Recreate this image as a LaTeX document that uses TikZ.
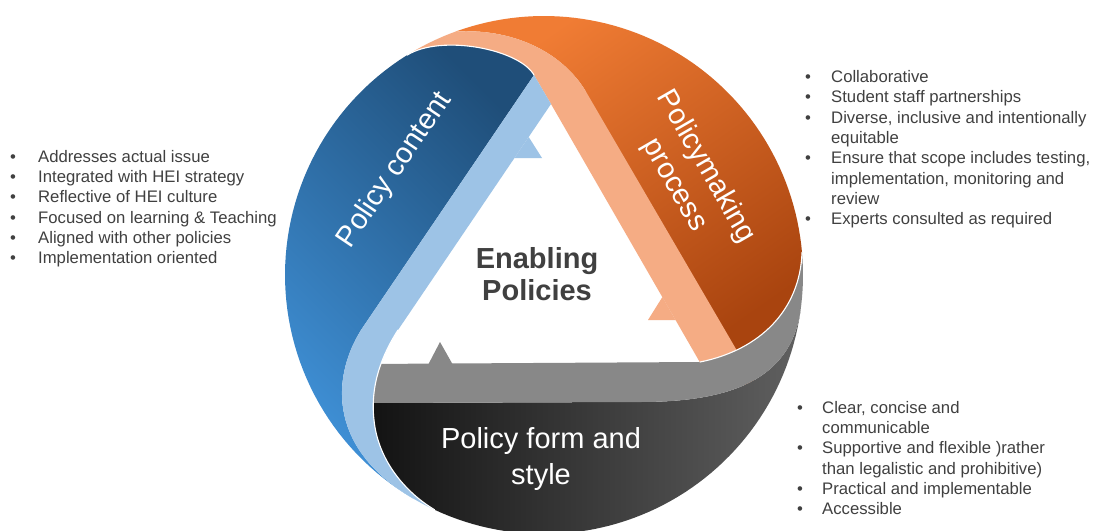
\documentclass[tikz,border=0pt]{standalone}
\usepackage{fontspec}
\setmainfont{Liberation Sans}
\definecolor{navy}{HTML}{1F4E79}
\definecolor{skyblue}{HTML}{3F90D6}
\definecolor{lightband}{HTML}{9DC3E6}
\definecolor{orangeL}{HTML}{F07C34}
\definecolor{orangeD}{HTML}{A9440F}
\definecolor{pinkband}{HTML}{F5AC84}
\definecolor{greyband}{HTML}{888888}
\definecolor{darkL}{HTML}{111111}
\definecolor{darkR}{HTML}{606060}
\definecolor{txtgrey}{HTML}{404040}
\newcommand\bul[1]{\makebox[#1][l]{\textbullet}}
\begin{document}
\begin{tikzpicture}[x=1pt,y=-1pt,
  listtxt/.style={anchor=base west,inner sep=0pt,text=txtgrey,font=\fontsize{16.7}{20.3}\selectfont},
  bandlbl/.style={text=white,inner sep=0pt,align=center,font=\fontsize{29}{36}\selectfont},
  centerlbl/.style={text=txtgrey,inner sep=0pt,align=center,font=\bfseries\fontsize{29}{32}\selectfont},
  sep/.style={draw=white,line width=1.1pt,line cap=round}]
\useasboundingbox (0,0) rectangle (1097,530);
\fill[white] (0,0) rectangle (1097,530);

% key points
\coordinate (Ptl) at ({544+259*cos(238.1)},{275+259*sin(238.1)});
\coordinate (Ptop) at ({544+259*cos(250)},{275+259*sin(250)});
\coordinate (Pr1) at ({544+259*cos(355)},{275+259*sin(355)});
\coordinate (Pr2) at ({544+259*cos(8)},{275+259*sin(8)});
\coordinate (Pbt) at ({544+259*cos(115)},{275+259*sin(115)});
\coordinate (Pbl) at ({544+259*cos(120.4)},{275+259*sin(120.4)});
\coordinate (T) at (551,104);
\coordinate (A) at (534,75);
\coordinate (B) at (585,90);
\coordinate (LBi) at (398,330);
\coordinate (LBo) at (361,330);
\coordinate (LBm) at (374,420);
\coordinate (Gt) at (700,362);
\coordinate (Gb) at (640,402);

% dark blue
\shade[top color=navy,bottom color=skyblue,shading angle=-45]
  (Ptl) -- plot[domain=238.1:120.4,samples=60,variable=\t]({544+259*cos(\t)},{275+259*sin(\t)})
  -- (Pbl) .. controls (330,450) and (330,380) .. (LBo) -- (A)
  .. controls (519,49) and (441,34) .. (Ptl) -- cycle;
% orange
\shade[top color=orangeL,bottom color=orangeD,shading angle=35]
  (Ptop) -- plot[domain=250:355,samples=60,variable=\t]({544+259*cos(\t)},{275+259*sin(\t)})
  -- (Pr1) .. controls (800,310) and (760,350) .. (Gt) -- (B)
  .. controls (560,50) and (510,28) .. (Ptop) -- cycle;
% pink band
\fill[pinkband] (Ptl) .. controls (441,34) and (519,49) .. (A) -- (T) -- (713,385) -- (757,385) -- (B)
  .. controls (560,50) and (510,28) .. (Ptop)
  -- plot[domain=250:238.1,samples=10,variable=\t]({544+259*cos(\t)},{275+259*sin(\t)}) -- cycle;
% dark grey
\shade[left color=darkL,right color=darkR]
  (362,403) -- (Gb) .. controls (730,402) and (790,380) .. (Pr2)
  -- plot[domain=8:115,samples=60,variable=\t]({544+259*cos(\t)},{275+259*sin(\t)})
  -- (Pbt) .. controls (405,492) and (378,460) .. (LBm) -- cycle;
% grey band
\fill[greyband] (Pr1) .. controls (800,310) and (760,350) .. (Gt) -- (365,364) -- (362,403) -- (Gb)
  .. controls (730,402) and (790,380) .. (Pr2)
  -- plot[domain=8:-5,samples=10,variable=\t]({544+259*cos(\t)},{275+259*sin(\t)}) -- cycle;
% light blue band
\fill[lightband] (A) -- (T) -- (LBi) .. controls (382,355) and (370,385) .. (LBm)
  .. controls (378,460) and (405,492) .. (Pbt)
  -- plot[domain=115:120.4,samples=6,variable=\t]({544+259*cos(\t)},{275+259*sin(\t)})
  -- (Pbl) .. controls (330,450) and (330,380) .. (LBo) -- cycle;

% barbs
\fill[lightband] (528.7,137) -- (542,158) -- (514.4,158) -- cycle;
\fill[pinkband] (662.4,297) -- (648,320) -- (675.6,320) -- cycle;
\fill[greyband] (428,365) -- (440,342) -- (453,365) -- cycle;

% highlight separators
\draw[sep] (Ptl) .. controls (441,34) and (519,49) .. (A);
\draw[sep] (Pr1) .. controls (800,310) and (760,350) .. (Gt);
\draw[sep] (LBi) .. controls (382,355) and (370,385) .. (LBm) .. controls (378,460) and (405,492) .. (Pbt);

% labels
\node[bandlbl,rotate=56] (pcontent) at (395,170) {Policy content};
\node[bandlbl,rotate=-60] (pprocess) at (690,176) {Policymaking\\process};
\node[bandlbl] (pform) at (541,459) {Policy form and\\style};
\node[centerlbl] (enabling) at (537,274) {Enabling\\Policies};

% left list
\node[listtxt] (l1) at (10,162.5) {\bul{28pt}Addresses actual issue};
\node[listtxt] (l2) at (10,182.7) {\bul{28pt}Integrated with HEI strategy};
\node[listtxt] (l3) at (10,202.9) {\bul{28pt}Reflective of HEI culture};
\node[listtxt] (l4) at (10,223.1) {\bul{28pt}Focused on learning \& Teaching};
\node[listtxt] (l5) at (10,243.3) {\bul{28pt}Aligned with other policies};
\node[listtxt] (l6) at (10,263.5) {\bul{28pt}Implementation oriented};

% right list
\node[listtxt] (r1) at (805,82.5) {\bul{26pt}Collaborative};
\node[listtxt] (r2) at (805,102.8) {\bul{26pt}Student staff partnerships};
\node[listtxt] (r3) at (805,123.1) {\bul{26pt}Diverse, inclusive and intentionally};
\node[listtxt] (r4) at (831,143.4) {equitable};
\node[listtxt] (r5) at (805,163.7) {\bul{26pt}Ensure that scope includes testing,};
\node[listtxt] (r6) at (831,184.0) {implementation, monitoring and};
\node[listtxt] (r7) at (831,204.3) {review};
\node[listtxt] (r8) at (805,224.6) {\bul{26pt}Experts consulted as required};

% bottom list
\node[listtxt] (b1) at (797,413.5) {\bul{25pt}Clear, concise and};
\node[listtxt] (b2) at (822,433.7) {communicable};
\node[listtxt] (b3) at (797,453.9) {\bul{25pt}Supportive and flexible )rather};
\node[listtxt] (b4) at (822,474.1) {than legalistic and prohibitive)};
\node[listtxt] (b5) at (797,494.3) {\bul{25pt}Practical and implementable};
\node[listtxt] (b6) at (797,514.5) {\bul{25pt}Accessible};
\end{tikzpicture}
\end{document}
